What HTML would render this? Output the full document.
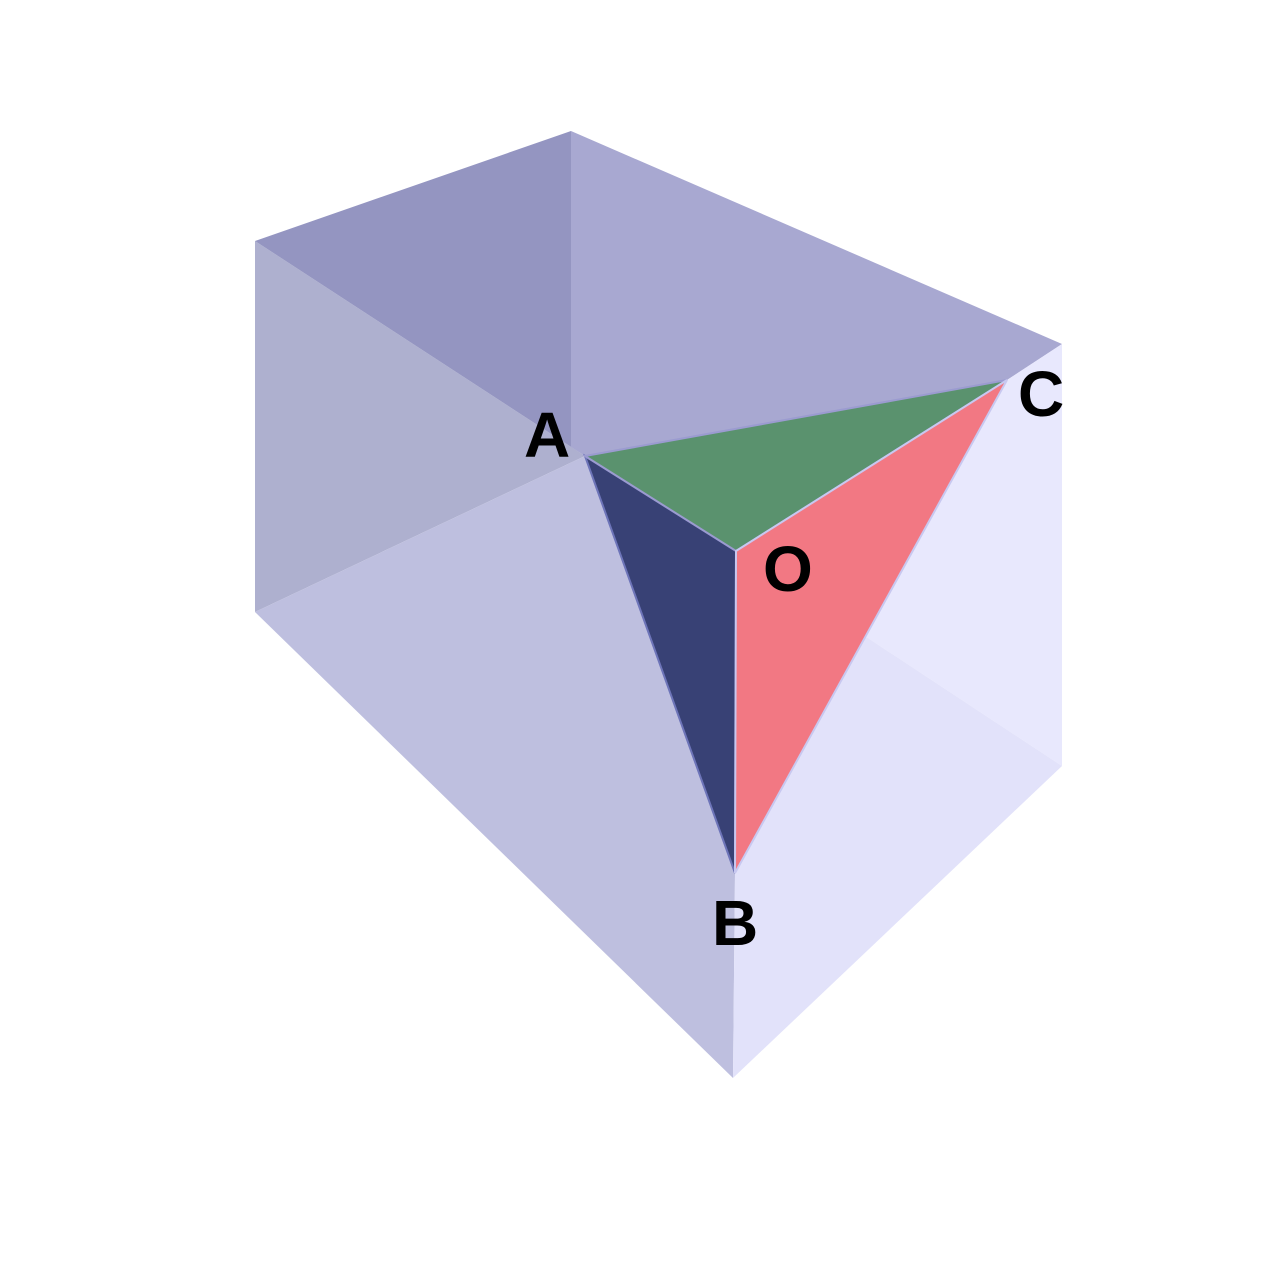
<!DOCTYPE html>
<html><head><style>html,body{margin:0;padding:0;background:#fff}svg{display:block}</style></head>
<body>
<svg width="1280" height="1280" viewBox="0 0 1280 1280" xmlns="http://www.w3.org/2000/svg">
<polygon points="255,241 585,456 255,612" fill="#aeb0cf"/>
<polygon points="255,241 571,131 571,447 585,456" fill="#9495c1"/>
<polygon points="571,131 1062,344 1007,380 585,456 571,447" fill="#a8a8d1"/>
<polygon points="255,612 585,456 735,873 733,1078" fill="#bebfdf"/>
<polygon points="1062,344 1062,766 736,551 1007,380" fill="#e8e8fd"/>
<polygon points="736,551 1062,766 733,1078 735,873" fill="#e2e2fa"/>
<polygon points="585,456 736,551 735,873" fill="#384175" stroke="#6d74b8" stroke-width="2"/>
<polygon points="585,456 1007,380 736,551" fill="#5a926e" stroke="#9b9bd0" stroke-width="2"/>
<polygon points="736,551 1007,380 735,873" fill="#f27883" stroke="#c8c8f0" stroke-width="2"/>
<g font-family="Liberation Sans, sans-serif" font-weight="bold" font-size="64" fill="#000">
<text x="524" y="457">A</text>
<text x="712" y="945">B</text>
<text x="1018" y="416">C</text>
<text x="763" y="591">O</text>
</g>
</svg>
</body></html>
